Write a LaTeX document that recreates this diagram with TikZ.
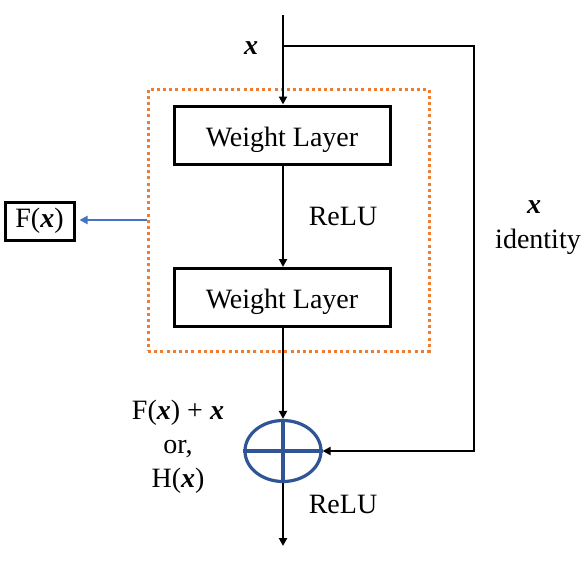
\documentclass[tikz,border=0pt]{standalone}
\usepackage{fontspec}
\setmainfont{Liberation Serif}
\usetikzlibrary{arrows.meta,shapes.geometric}

\definecolor{frameorange}{RGB}{237,125,49}
\definecolor{sumblue}{RGB}{47,85,151}
\definecolor{arrowblue}{RGB}{68,114,196}

\newcommand{\vx}{\textbf{\textit{x}}}

\tikzset{
  layerbox/.style={draw, line width=3pt, minimum width=216pt, minimum height=58pt, inner sep=0pt, text height=22pt, text depth=0pt},
  flow/.style={line width=2.8pt, -{Triangle[length=8pt,width=8pt]}},
  dotbox/.style={draw=frameorange, line width=3pt, dash pattern=on 3pt off 3.2pt, minimum width=281pt, minimum height=262pt},
}

\begin{document}
\begin{tikzpicture}[x=1pt,y=-1pt,font=\fontsize{28}{34}\selectfont]
    \useasboundingbox (0,0) rectangle (588,571);

    % input and shortcut corner
    \coordinate (in) at (283,15);
    \coordinate (split) at (283,46);
    \coordinate (corner1) at (474,46);
    \coordinate (corner2) at (474,451);
    \coordinate (out) at (283,546);
    \node at (251,48) {\vx};

    % residual block
    \node[dotbox] (frame) at (288.5,220) {};
    \node[layerbox] (wl1) at (282,135) {Weight Layer};
    \node[layerbox] (wl2) at (282,297.5) {Weight Layer};
    \node at (343,216) {ReLU};

    % F(x) output
    \node[draw, line width=3pt, minimum width=69pt, minimum height=38pt, inner sep=0pt] (fx) at (39.5,221) {F(\vx)};
    \draw[line width=2.5pt, draw=arrowblue, shorten >=4pt, -{Triangle[length=8pt,width=8pt]}] (frame.west) -- (frame.west -| fx.east);

    % addition
    \node[ellipse, draw=sumblue, line width=3.2pt, minimum width=76pt, minimum height=61pt] (sum) at (283,451) {};
    \draw[sumblue, line width=3.2pt] (sum.north) -- (sum.south) (sum.west) -- (sum.east);
    \node[align=center] at (178,447) {F(\vx) + \vx\\or,\\H(\vx)};
    \node at (343,504) {ReLU};

    % identity label
    \node at (534,207) {\vx};
    \node at (538,242) {identity};

    % connections
    \draw[flow] (in) -- (wl1.north -| in);
    \draw[flow] (wl1.south -| in) -- (wl2.north -| in);
    \draw[flow] (wl2.south -| in) -- (sum.north);
    \draw[flow] (split) -- (corner1) -- (corner2) -- (sum.east);
    \draw[flow] (sum.south) -- (out);
\end{tikzpicture}
\end{document}
